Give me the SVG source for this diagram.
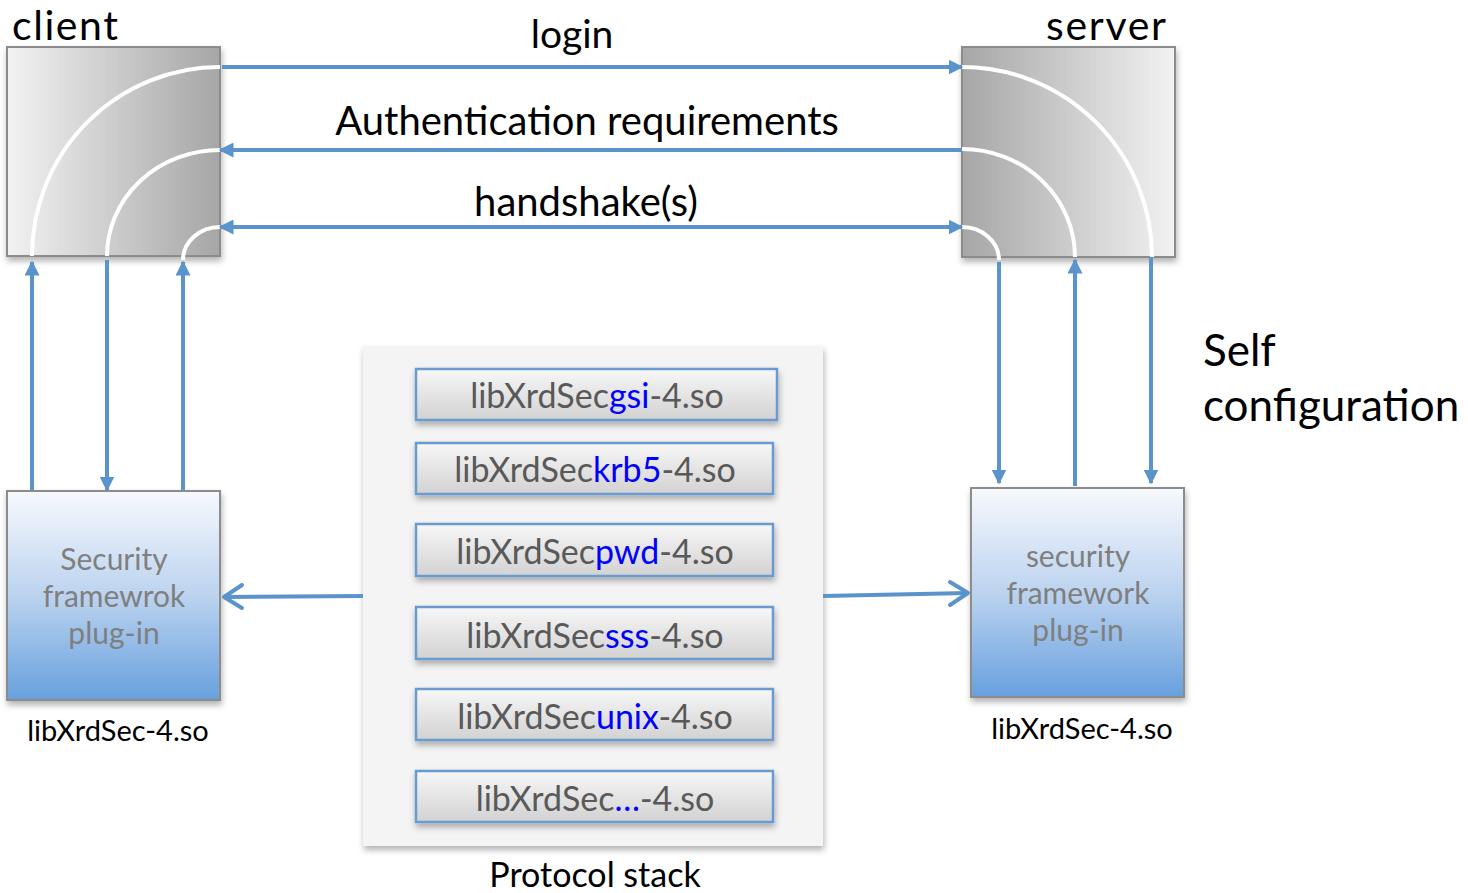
<svg xmlns="http://www.w3.org/2000/svg" width="1468" height="893" viewBox="0 0 1468 893">
<style>
.lbl{font-family:Lato,"Open Sans","Liberation Sans",sans-serif;fill:#000}
.plug{font-family:Lato,"Open Sans","Liberation Sans",sans-serif;fill:#7f7f7f;font-size:30px;text-anchor:middle}
.lib{font-family:Lato,"Open Sans","Liberation Sans",sans-serif;fill:#595959;font-size:34px;text-anchor:middle}
.hl{fill:#0000ff}
.conn{stroke:#5b93cc;stroke-width:4;fill:none}
.arc{stroke:#fff;stroke-width:4;fill:none}
.libbox{fill:url(#gLib);stroke:#6a9bd0;stroke-width:2.5;filter:url(#sh)}
</style>
<defs>
<linearGradient id="gCli" x1="0" y1="0" x2="1" y2="0"><stop offset="0" stop-color="#f2f2f2"/><stop offset="1" stop-color="#a6a6a6"/></linearGradient>
<linearGradient id="gSrv" x1="0" y1="0" x2="1" y2="0"><stop offset="0" stop-color="#a6a6a6"/><stop offset="1" stop-color="#f2f2f2"/></linearGradient>
<linearGradient id="gPlug" x1="0" y1="0" x2="0" y2="1"><stop offset="0" stop-color="#f7f9fd"/><stop offset="0.5" stop-color="#bcd3ef"/><stop offset="1" stop-color="#67a0de"/></linearGradient>
<linearGradient id="gLib" x1="0" y1="0" x2="0" y2="1"><stop offset="0" stop-color="#f7f7f7"/><stop offset="1" stop-color="#d2d2d2"/></linearGradient>
<filter id="sh" x="-10%" y="-10%" width="130%" height="140%"><feDropShadow dx="1" dy="4" stdDeviation="3" flood-color="#000" flood-opacity="0.3"/></filter>
<marker id="ah" viewBox="0 0 10 10" refX="9" refY="5" markerWidth="15" markerHeight="15" markerUnits="userSpaceOnUse" orient="auto-start-reverse"><path d="M0,0 L10,5 L0,10 z" fill="#5b93cc"/></marker>
</defs>
<rect width="1468" height="893" fill="#fff"/>

<g id="client">
<rect x="7" y="47" width="213" height="209" fill="url(#gCli)" stroke="#8c8c8c" stroke-width="2" filter="url(#sh)"/>
<path class="arc" d="M220,67 A188,189 0 0 0 32,256"/>
<path class="arc" d="M220,150 A113,106 0 0 0 107,256"/>
<path class="arc" d="M220,227 A37,33 0 0 0 183,260"/>
<text class="lbl" x="12" y="40" font-size="41" textLength="106">client</text>
</g>

<g id="server">
<rect x="962" y="47" width="213" height="210" fill="url(#gSrv)" stroke="#8c8c8c" stroke-width="2" filter="url(#sh)"/>
<path class="arc" d="M962,67 A190,190 0 0 1 1152,257"/>
<path class="arc" d="M962,149 A113,108 0 0 1 1075,257"/>
<path class="arc" d="M962,227 A37,33 0 0 1 999,260"/>
<text class="lbl" x="1046" y="40" font-size="41" textLength="120">server</text>
</g>

<g id="client-plugin">
<rect x="7" y="491" width="213" height="209" fill="url(#gPlug)" stroke="#8c8c8c" stroke-width="2" filter="url(#sh)"/>
<text class="plug" x="114" y="570">Security</text>
<text class="plug" x="114" y="607">framewrok</text>
<text class="plug" x="114" y="644">plug-in</text>
<text class="lbl" x="118" y="741" font-size="29" text-anchor="middle">libXrdSec-4.so</text>
</g>

<g id="server-plugin">
<rect x="971" y="488" width="213" height="209" fill="url(#gPlug)" stroke="#8c8c8c" stroke-width="2" filter="url(#sh)"/>
<text class="plug" x="1078" y="567">security</text>
<text class="plug" x="1078" y="604">framework</text>
<text class="plug" x="1078" y="641">plug-in</text>
<text class="lbl" x="1082" y="739" font-size="29" text-anchor="middle">libXrdSec-4.so</text>
</g>

<g id="protocol-stack">
<rect x="363" y="346" width="460" height="500" fill="#f4f4f4" filter="url(#sh)"/>
<text class="lbl" x="595" y="887" font-size="34" text-anchor="middle">Protocol stack</text>
</g>

<g id="lib-gsi"><rect class="libbox" x="416" y="369" width="361" height="51"/><text class="lib" x="597" y="408">libXrdSec<tspan class="hl">gsi</tspan>-4.so</text></g>
<g id="lib-krb5"><rect class="libbox" x="416" y="443" width="357" height="51"/><text class="lib" x="595" y="482">libXrdSec<tspan class="hl">krb5</tspan>-4.so</text></g>
<g id="lib-pwd"><rect class="libbox" x="416" y="524" width="357" height="52"/><text class="lib" x="595" y="564">libXrdSec<tspan class="hl">pwd</tspan>-4.so</text></g>
<g id="lib-sss"><rect class="libbox" x="416" y="607" width="357" height="52"/><text class="lib" x="595" y="648">libXrdSec<tspan class="hl">sss</tspan>-4.so</text></g>
<g id="lib-unix"><rect class="libbox" x="416" y="689" width="357" height="51"/><text class="lib" x="595" y="729">libXrdSec<tspan class="hl">unix</tspan>-4.so</text></g>
<g id="lib-etc"><rect class="libbox" x="416" y="771" width="357" height="51"/><text class="lib" x="595" y="811">libXrdSec<tspan class="hl">…</tspan>-4.so</text></g>

<g id="labels">
<text class="lbl" x="572" y="48" font-size="39" text-anchor="middle">login</text>
<text class="lbl" x="587" y="135" font-size="40" text-anchor="middle">Authentication requirements</text>
<text class="lbl" x="586" y="216" font-size="40" text-anchor="middle">handshake(s)</text>
<text class="lbl" x="1203" y="366" font-size="44">Self</text>
<text class="lbl" x="1203" y="421" font-size="44">configuration</text>
</g>

<g id="connectors">
<line class="conn" x1="222" y1="67" x2="962" y2="67" marker-end="url(#ah)"/>
<line class="conn" x1="962" y1="150" x2="220" y2="150" marker-end="url(#ah)"/>
<line class="conn" x1="220" y1="227" x2="962" y2="227" marker-start="url(#ah)" marker-end="url(#ah)"/>
<line class="conn" x1="32" y1="490" x2="32" y2="262" marker-end="url(#ah)"/>
<line class="conn" x1="107" y1="260" x2="107" y2="490" marker-end="url(#ah)"/>
<line class="conn" x1="183" y1="490" x2="183" y2="262" marker-end="url(#ah)"/>
<line class="conn" x1="999" y1="262" x2="999" y2="483" marker-end="url(#ah)"/>
<line class="conn" x1="1075" y1="486" x2="1075" y2="260" marker-end="url(#ah)"/>
<line class="conn" x1="1151" y1="257" x2="1151" y2="483" marker-end="url(#ah)"/>
<line class="conn" x1="363" y1="596" x2="224" y2="597"/>
<polyline class="conn" points="242,585 224,597 242,608" stroke-linecap="round" stroke-linejoin="round"/>
<line class="conn" x1="823" y1="596" x2="968" y2="593"/>
<polyline class="conn" points="950,582 968,593 950,605" stroke-linecap="round" stroke-linejoin="round"/>
</g>
</svg>
